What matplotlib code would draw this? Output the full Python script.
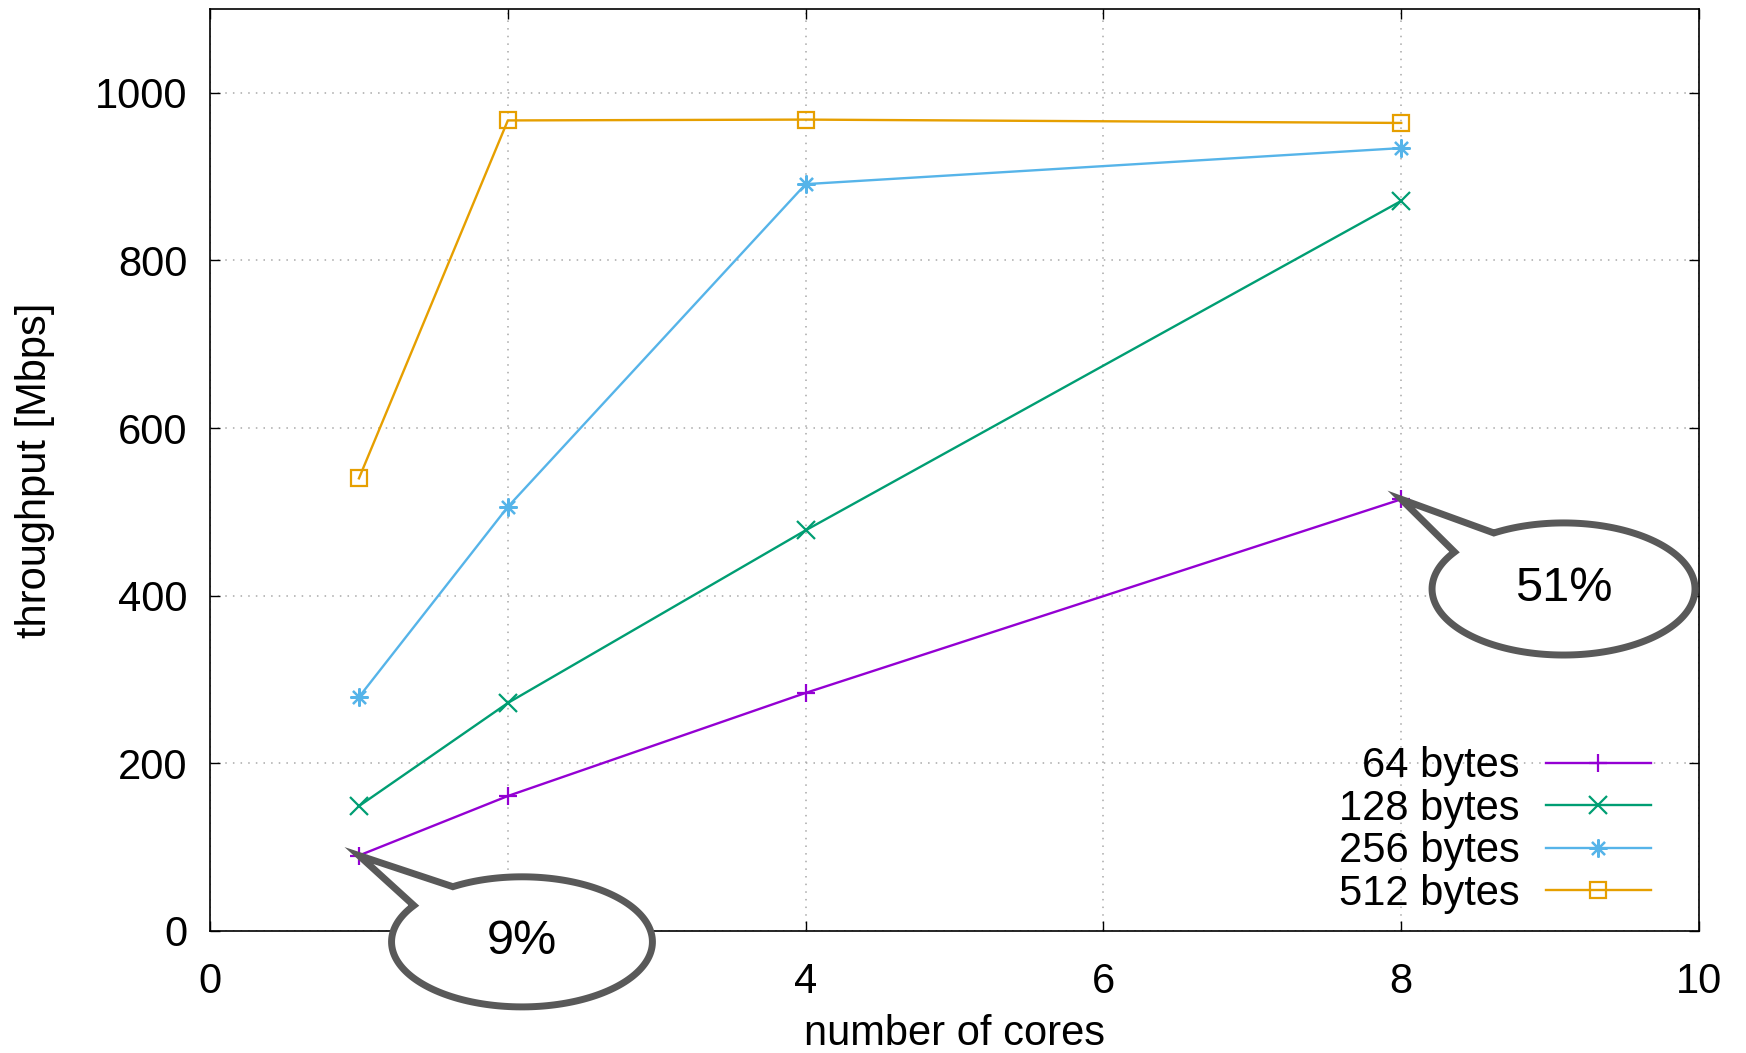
import numpy as np
import matplotlib.pyplot as plt
from matplotlib.path import Path
from matplotlib.patches import PathPatch

plt.rcParams['font.family'] = ['Liberation Sans', 'DejaVu Sans']

cores = [1, 2, 4, 8]
labels = ['64 bytes', '128 bytes', '256 bytes', '512 bytes']
tp_64 = [90, 161, 284, 515]
tp_128 = [149, 272, 478, 871]
tp_256 = [279, 506, 891, 934]
tp_512 = [540, 967, 968, 964]
series = [tp_64, tp_128, tp_256, tp_512]

colors = ['#9400d3', '#009e73', '#56b4e9', '#e69f00']
markers = ['+', 'x', (8, 2, 0), 's']

# callouts: text, anchor point (data), ellipse centre, semi axes
callouts = [
    ('9%', (1, 90), (2.095, -13), (0.876, 77.6)),
    ('51%', (8, 515), (9.09, 408), (0.883, 78.8)),
]


def bubble(tip, center, semi, a1=122, a2=146, n=200):
    # ellipse outline with a notch leading out to the tip
    cx, cy = center
    rx, ry = semi
    t = np.radians(np.linspace(a2, a1 + 360, n))
    verts = [(cx + rx * np.cos(a), cy + ry * np.sin(a)) for a in t]
    verts.append(tip)
    verts.append(verts[0])
    codes = [Path.MOVETO] + [Path.LINETO] * (len(verts) - 2) + [Path.CLOSEPOLY]
    return Path(verts, codes)


fig = plt.figure(figsize=(17.46, 10.53), dpi=100)
ax = fig.add_axes([0.1203, 0.1159, 0.8528, 0.8756])

for ys, c, m, lab in zip(series, colors, markers, labels):
    ms = 11 if m == 's' else 13
    ax.plot(cores, ys, color=c, lw=1.7, marker=m, ms=ms, mew=1.6,
            mfc='none', label=lab, zorder=3)

ax.set_xlim(0, 10)
ax.set_ylim(0, 1100)
ax.set_xticks(range(0, 11, 2))
ax.set_yticks(range(0, 1001, 200))
ax.grid(True, ls=(0, (1, 4)), color='#a8a8a8', lw=1.1)
ax.tick_params(direction='in', length=7, width=1, top=True, right=True,
               labelsize=30)
ax.tick_params(axis='y', pad=16)
ax.tick_params(axis='x', pad=22)
for s in ax.spines.values():
    s.set_linewidth(1.2)

ax.set_xlabel('number of cores', fontsize=30, labelpad=9)
ax.set_ylabel('throughput [Mbps]', fontsize=30, labelpad=29)

leg = ax.legend(loc='lower right', frameon=False, markerfirst=False,
                fontsize=30, handlelength=2.5, handletextpad=0.65,
                labelspacing=0.06, borderaxespad=0.3,
                bbox_to_anchor=(0.987, -0.013))

for txt, tip, center, semi in callouts:
    p = PathPatch(bubble(tip, center, semi), facecolor='white',
                  edgecolor='#595959', lw=5, clip_on=False, zorder=5)
    ax.add_patch(p)
    ax.text(center[0], center[1], txt, fontsize=35, ha='center',
            va='center', zorder=6, clip_on=False)

fig.savefig('out.png', dpi=100)
